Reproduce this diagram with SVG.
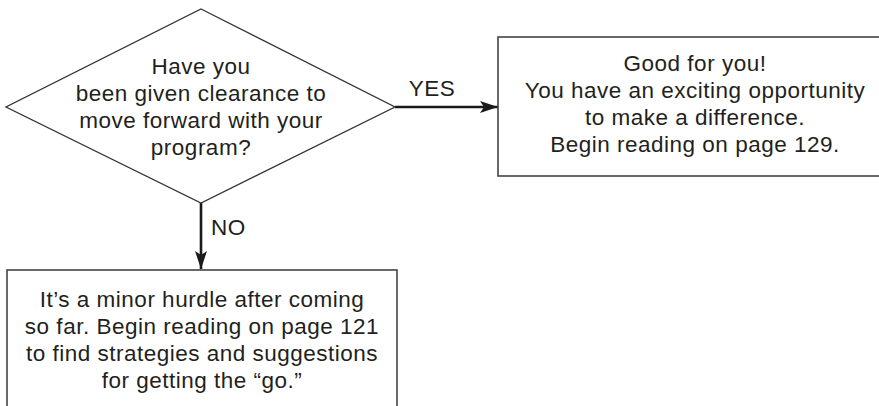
<svg xmlns="http://www.w3.org/2000/svg" width="879" height="406" viewBox="0 0 879 406">
  <defs>
    <marker id="arrowhead" viewBox="0 0 18 12" refX="18" refY="6" markerWidth="18" markerHeight="12" markerUnits="userSpaceOnUse" orient="auto">
      <path d="M0,0 L18,6 L0,12 L4,6 Z" fill="#1a1a1a"/>
    </marker>
    <style>
      .shape { fill: #ffffff; stroke: #333333; stroke-width: 1.3; }
      .box { fill: #ffffff; stroke: #444444; stroke-width: 1.6; }
      .txt { font-family: "Liberation Sans", Arial, sans-serif; font-size: 22.5px; letter-spacing: 0.5px; fill: #231f20; text-anchor: middle; }
      .lbl { font-family: "Liberation Sans", Arial, sans-serif; font-size: 22.5px; letter-spacing: 0.5px; fill: #231f20; }
      .conn { fill: none; stroke: #1a1a1a; stroke-width: 2.6; marker-end: url(#arrowhead); }
    </style>
  </defs>
  <rect width="879" height="406" fill="#ffffff"/>

  <g id="connectors">
    <line class="conn" x1="395" y1="107" x2="498" y2="107"/>
    <text class="lbl" x="432" y="96" text-anchor="middle">YES</text>
    <line class="conn" x1="201" y1="203" x2="201" y2="269"/>
    <text class="lbl" x="211" y="235">NO</text>
  </g>

  <g id="decision">
    <polygon class="shape" points="201,9 395,107 201,203 6,107"/>
    <text class="txt" x="201" y="74">Have you</text>
    <text class="txt" x="201" y="101">been given clearance to</text>
    <text class="txt" x="201" y="128">move forward with your</text>
    <text class="txt" x="201" y="155">program?</text>
  </g>

  <g id="yes-box">
    <rect class="box" x="498" y="37" width="400" height="139"/>
    <text class="txt" x="695" y="71">Good for you!</text>
    <text class="txt" x="695" y="98">You have an exciting opportunity</text>
    <text class="txt" x="695" y="125">to make a difference.</text>
    <text class="txt" x="695" y="152">Begin reading on page 129.</text>
  </g>

  <g id="no-box">
    <rect class="box" x="7" y="270" width="390" height="160"/>
    <text class="txt" x="202" y="307">It’s a minor hurdle after coming</text>
    <text class="txt" x="202" y="334">so far. Begin reading on page 121</text>
    <text class="txt" x="202" y="361">to find strategies and suggestions</text>
    <text class="txt" x="202" y="388">for getting the “go.”</text>
  </g>
</svg>
